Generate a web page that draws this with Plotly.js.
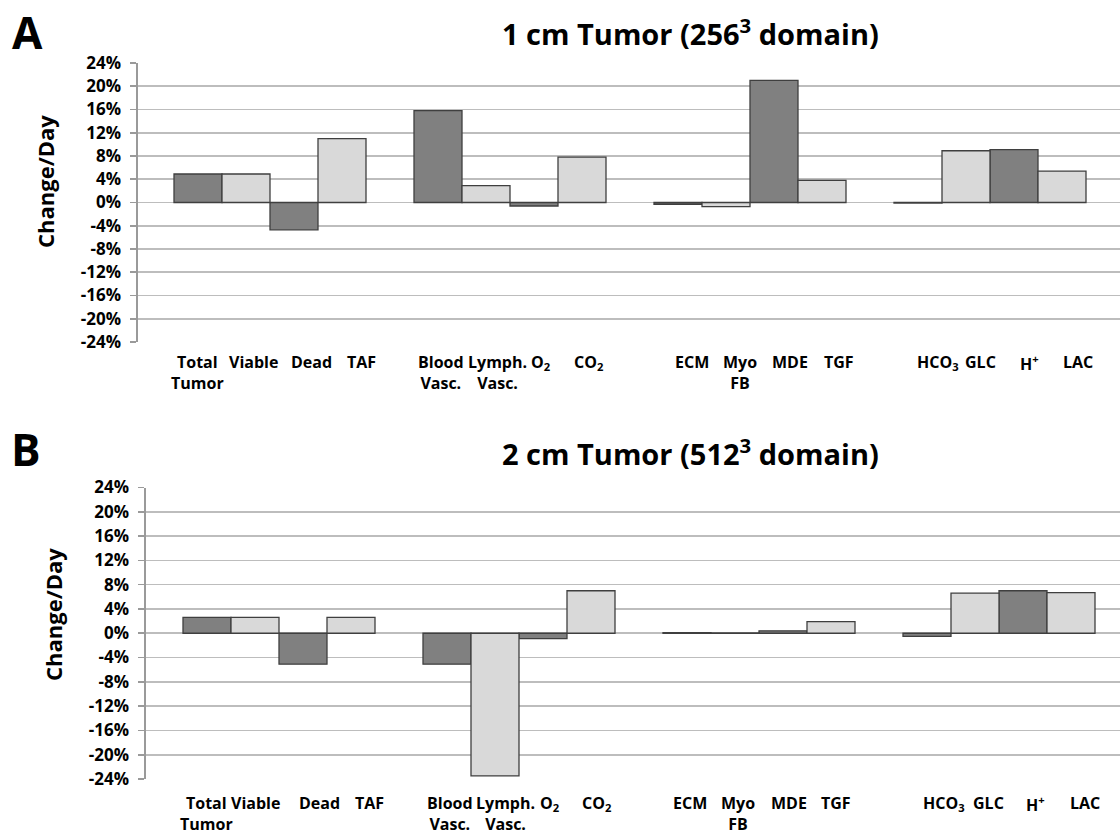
<!DOCTYPE html>
<html>
<head>
<meta charset="utf-8">
<script src="https://cdn.plot.ly/plotly-3.0.1.min.js"></script>
<style>
  html, body { margin: 0; padding: 0; background: #ffffff; }
  #chart { width: 1120px; height: 840px; }
</style>
</head>
<body>
<div id="chart"></div>
<script>
// ---------------- data ----------------
const categories = ['Total<br>Tumor', 'Viable', 'Dead', 'TAF',
                    'Blood<br>Vasc.', 'Lymph.<br>Vasc.', 'O<sub>2</sub>', 'CO<sub>2</sub>',
                    'ECM', 'Myo<br>FB', 'MDE', 'TGF',
                    'HCO<sub>3</sub>', 'GLC', 'H<sup>+</sup>', 'LAC'];
const groupOf = [0, 0, 0, 0, 1, 1, 1, 1, 2, 2, 2, 2, 3, 3, 3, 3];
// change per day, in percent
const tumor1cm = [4.9, 4.9, -4.7, 11.0, 15.8, 2.9, -0.6, 7.8, -0.3, -0.7, 21.0, 3.8, -0.1, 8.9, 9.1, 5.4];
const tumor2cm = [2.6, 2.6, -5.1, 2.6, -5.1, -23.5, -0.9, 7.0, 0.1, 0.05, 0.4, 1.9, -0.5, 6.6, 7.0, 6.7];
const yTickVals = [-24, -20, -16, -12, -8, -4, 0, 4, 8, 12, 16, 20, 24];
const yTickText = ['-24%', '-20%', '-16%', '-12%', '-8%', '-4%', '0%', '4%', '8%', '12%', '16%', '20%', '24%'];
const titleA = '1 cm Tumor (256<sup>3</sup> domain)';
const titleB = '2 cm Tumor (512<sup>3</sup> domain)';
const yTitle = 'Change/Day';

// ---------------- styling ----------------
const W = 1120, H = 840;
const FONT = '"Open Sans", Lato, "DejaVu Sans", sans-serif';
const DARK = '#808080', LIGHT = '#d9d9d9', EDGE = '#3f3f3f', GRID = '#bdbdbd';
// label nudges (px) to follow the original hand-placed label row
const nudgeA = [-1, 7, 17, 19, 3, 11, 7, 7, 14, 14, 16, 17, 20, 14, 15, 16];
const nudgeB = [-1, 0, 16, 18, 3, 10, 7, 6, 3, 3, 6, 5, 17, 13, 12, 14];

const xpos = categories.map((c, i) => i + groupOf[i]);
const isDark = categories.map((c, i) => i % 2 === 0);

function pick(arr, wantDark) {
  const xs = [], ys = [];
  arr.forEach((v, i) => { if (isDark[i] === wantDark) { xs.push(xpos[i]); ys.push(v); } });
  return { xs, ys };
}

function barTraces(values, xa, ya) {
  const d = pick(values, true), l = pick(values, false);
  return [
    { type: 'bar', x: d.xs, y: d.ys, xaxis: xa, yaxis: ya, width: 1,
      marker: { color: DARK, line: { color: EDGE, width: 1.3 } }, hoverinfo: 'y' },
    { type: 'bar', x: l.xs, y: l.ys, xaxis: xa, yaxis: ya, width: 1,
      marker: { color: LIGHT, line: { color: EDGE, width: 1.3 } }, hoverinfo: 'y' }
  ];
}

const data = [].concat(barTraces(tumor1cm, 'x', 'y'), barTraces(tumor2cm, 'x2', 'y2'));

// plot-area geometry (px)
const A = { left: 138, top: 63, bottom: 342, firstBar: 174 };
const B = { left: 146, top: 487.5, bottom: 779, firstBar: 183 };
const SLOT = 48;

function xRange(p) {
  const lo = -0.5 - (p.firstBar - p.left) / SLOT;
  return [lo, lo + (W - p.left) / SLOT];
}

function yAxis(p) {
  return {
    domain: [1 - p.bottom / H, 1 - p.top / H],
    range: [-24, 24],
    tickmode: 'array', tickvals: yTickVals, ticktext: yTickText,
    showgrid: true, gridcolor: GRID, gridwidth: 1.6,
    zeroline: false,
    showline: true, linecolor: '#9a9a9a', linewidth: 1.6,
    ticks: 'outside', ticklen: 6, tickcolor: '#9a9a9a', tickwidth: 1.6,
    ticklabelstandoff: 6,
    tickfont: { family: FONT, size: 17, color: '#000', weight: 'bold' },
    fixedrange: true
  };
}
function xAxis(p) {
  return {
    domain: [p.left / W, 1], range: xRange(p),
    showgrid: false, zeroline: false, showline: false, showticklabels: false, ticks: '',
    fixedrange: true
  };
}

const annotations = [];
function catLabels(xref, p, nudges, yshift) {
  categories.forEach((c, i) => {
    annotations.push({
      xref: xref, yref: 'paper', x: xpos[i], y: 1 - p.bottom / H,
      xanchor: 'center', yanchor: 'top', xshift: nudges[i], yshift: yshift,
      text: c, showarrow: false, align: 'center',
      font: { family: FONT, size: 16, color: '#000', weight: 'bold' }
    });
  });
}
catLabels('x', A, nudgeA, -7);
catLabels('x2', B, nudgeB, -11);

function addText(text, xpx, ypx, size, angle, anchorY) {
  annotations.push({
    xref: 'paper', yref: 'paper', x: xpx / W, y: 1 - ypx / H,
    xanchor: 'center', yanchor: anchorY || 'middle', text: text, showarrow: false,
    textangle: angle || 0,
    font: { family: FONT, size: size, color: '#000', weight: 'bold' }
  });
}
addText('A', 27, 0, 44, 0, 'top');
addText('B', 26, 417, 44, 0, 'top');
addText(titleA, 690, 32, 29);
addText(titleB, 690, 452, 29);
addText(yTitle, 45, 182, 22, -90);
addText(yTitle, 53, 615, 22, -90);

const layout = {
  width: W, height: H,
  margin: { l: 0, r: 0, t: 0, b: 0 },
  paper_bgcolor: '#ffffff', plot_bgcolor: '#ffffff',
  showlegend: false, barmode: 'overlay',
  xaxis: xAxis(A), yaxis: yAxis(A),
  xaxis2: Object.assign(xAxis(B), { anchor: 'y2' }),
  yaxis2: Object.assign(yAxis(B), { anchor: 'x2' }),
  annotations: annotations,
  font: { family: FONT }
};
layout.xaxis.anchor = 'y';
layout.yaxis.anchor = 'x';

Plotly.newPlot('chart', data, layout, { staticPlot: true, displayModeBar: false });
</script>
</body>
</html>
